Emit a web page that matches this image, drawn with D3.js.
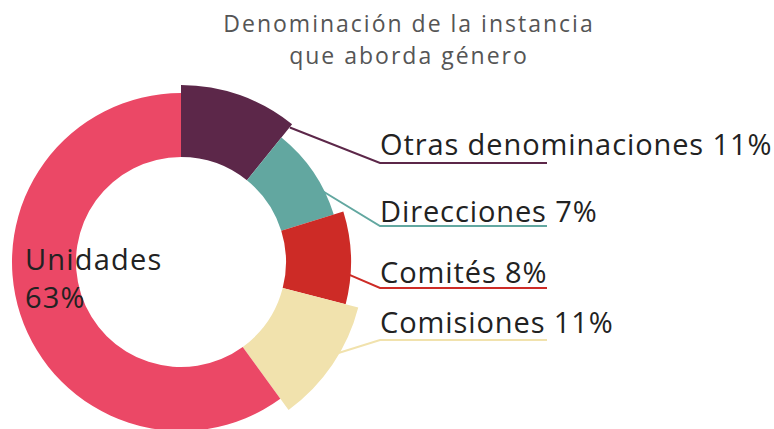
<!DOCTYPE html>
<html>
<head>
<meta charset="utf-8">
<script src="https://cdn.jsdelivr.net/npm/d3@7"></script>
<style>
  body { margin: 0; background: #fff; }
  text { font-family: "Open Sans", sans-serif; }
</style>
</head>
<body>
<div id="donut"></div>
<script>
// data
const categories = ["Otras denominaciones", "Direcciones", "Comités", "Comisiones", "Unidades"];
const pctLabels = [11, 7, 8, 11, 63];
// share of the circle each slice takes as drawn
const sliceShares = [10.8, 9.4, 8.8, 11.0, 60.0];
const titleLines = ["Denominación de la instancia", "que aborda género"];

function renderDonut() {
    const width = 774, height = 429;
    const cx = 181, cy = 262, innerR = 105;
    // per-slice look
    const colors = ["#5c2749", "#62a7a0", "#cd2b26", "#f1e2ad", "#eb4866"];
    const outerR = [177, 160, 170, 183, 169];
    const leaderAngle = [39, 62, 94, 121];   // degrees, where the leader leaves the slice
    const labelY = [155, 222, 283, 333];
    const lineY = [163, 226, 288, 340];
    const labelX = 380, lineEnd = 547;

    let svg = d3.select("#donut")
        .append("svg")
        .attr("width", width)
        .attr("height", height);

    // title
    svg.append("g")
        .selectAll("text")
        .data(titleLines)
        .enter()
        .append("text")
            .attr("x", 409)
            .attr("y", (d, i) => 32 + i * 32)
            .attr("text-anchor", "middle")
            .attr("font-size", 23)
            .attr("letter-spacing", 2)
            .attr("fill", "#555")
            .text(d => d);

    const pie = d3.pie().sort(null).value(d => d);
    const arcs = pie(sliceShares);

    const arc = d3.arc()
        .innerRadius(innerR)
        .outerRadius(d => outerR[d.index]);

    let g = svg.append("g").attr("transform", `translate(${cx},${cy})`);

    // leader lines go under the slices
    arcs.slice(0, 4).forEach(function(d, i) {
        const a = leaderAngle[i] * Math.PI / 180;
        const r = outerR[i] - 4;
        const pts = [
            [r * Math.sin(a), -r * Math.cos(a)],
            [labelX - cx, lineY[i] - cy],
            [lineEnd - cx, lineY[i] - cy]
        ];
        g.append("path")
            .attr("d", d3.line()(pts))
            .attr("fill", "none")
            .attr("stroke", colors[i])
            .attr("stroke-width", 2);
    });

    g.selectAll("path.slice")
        .data(arcs)
        .enter()
        .append("path")
            .attr("class", "slice")
            .attr("d", arc)
            .attr("fill", (d, i) => colors[i]);

    // side labels
    svg.append("g")
        .selectAll("text")
        .data(categories.slice(0, 4))
        .enter()
        .append("text")
            .attr("x", labelX)
            .attr("y", (d, i) => labelY[i])
            .attr("font-size", 29)
            .attr("letter-spacing", 0.9)
            .attr("fill", "#222")
            .text((d, i) => `${d} ${pctLabels[i]}%`);

    // label inside the big slice
    let u = svg.append("text")
        .attr("x", 25)
        .attr("font-size", 29)
        .attr("letter-spacing", 1.2)
        .attr("fill", "#222");
    u.append("tspan").attr("x", 25).attr("y", 270).text(categories[4]);
    u.append("tspan").attr("x", 25).attr("y", 308).text(pctLabels[4] + "%");
}

renderDonut();
</script>
</body>
</html>
